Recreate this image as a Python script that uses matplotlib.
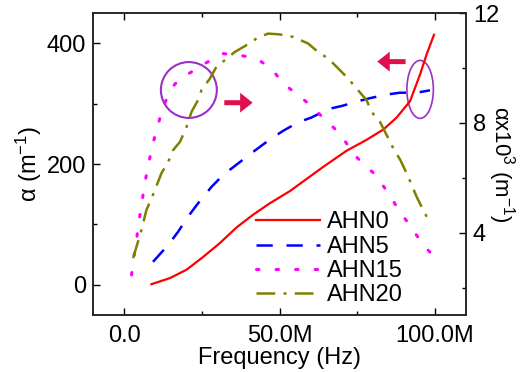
import matplotlib
matplotlib.use("Agg")
import matplotlib.pyplot as plt
from matplotlib.patches import Ellipse
from matplotlib.ticker import FixedLocator

plt.rcParams['font.family'] = ['Liberation Sans', 'DejaVu Sans']
plt.rcParams['mathtext.fontset'] = 'custom'
plt.rcParams['mathtext.rm'] = 'Liberation Sans'
plt.rcParams['mathtext.it'] = 'Liberation Sans'

# ---- data (frequency in MHz) ----
freq_ahn0 = [8.8, 14.7, 20.1, 25.4, 30.8, 36.2, 41.5, 46.9, 53.3, 64.0, 71.6, 78.0,
             83.4, 87.7, 92.0, 95.2, 97.3, 99.7]
alpha_ahn0 = [1, 11, 25, 46, 69, 95, 116, 135, 155, 195, 222, 240, 257, 277, 304,
              348, 381, 414]

freq_ahn5 = [9.3, 14.2, 17.4, 20.6, 23.8, 28.1, 31.9, 37.2, 41.5, 47.0, 51.2, 56.0,
             60.3, 65.7, 70.0, 75.3, 79.1, 84.5, 88.7, 94.1, 98.4]
alpha_ahn5 = [38, 66, 88, 113, 135, 162, 182, 203, 220, 241, 255, 269, 277, 291, 296,
              304, 309, 315, 318, 318, 322]

freq_ahn15 = [2.4, 3.1, 4.0, 4.7, 5.6, 6.4, 7.4, 8.6, 9.9, 11.5, 13.4, 16.3, 20.9, 26.3,
              31.9, 37.3, 42.6, 47.4, 51.2, 56.0, 60.6, 65.1, 69.7, 73.2, 76.9, 80.7,
              84.5, 88.2, 92.0, 95.9, 100.3]
alpha_ahn15 = [2.46, 3.07, 3.73, 4.36, 4.98, 5.61, 6.25, 6.89, 7.52, 8.16, 8.80, 9.41,
               9.80, 10.18, 10.52, 10.46, 10.34, 9.98, 9.43, 9.01, 8.58, 8.06, 7.59,
               6.95, 6.50, 6.13, 5.52, 4.86, 4.25, 3.61, 3.04]

freq_ahn20 = [2.9, 4.0, 5.3, 7.2, 9.0, 12.0, 14.2, 15.8, 18.0, 20.1, 21.7, 23.8, 24.9,
              27.6, 29.7, 32.4, 35.6, 38.8, 42.6, 46.3, 50.1, 54.4, 59.2, 62.4, 65.7,
              68.9, 72.1, 74.8, 78.0, 79.6, 82.3, 84.5, 86.6, 88.9, 91.4, 94.1, 96.2, 98.2]
alpha_ahn20 = [3.07, 3.49, 3.98, 4.83, 5.29, 6.16, 6.58, 7.01, 7.31, 7.85, 8.40, 8.83,
               9.19, 9.61, 10.04, 10.28, 10.58, 10.79, 11.07, 11.25, 11.22, 11.13, 10.89,
               10.58, 10.34, 9.98, 9.61, 9.25, 8.83, 8.40, 8.04, 7.55, 7.07, 6.64, 6.04,
               5.31, 4.83, 4.40]

labels = ["AHN0", "AHN5", "AHN15", "AHN20"]
xticks = [0, 50, 100]
xticklabels = ["0.0", "50.0M", "100.0M"]
left_ticks = [0, 200, 400]
right_ticks = [4, 8, 12]

FS = 17

fig = plt.figure(figsize=(5.22, 3.72), dpi=100)
ax = fig.add_axes([93/522, 1 - 315/372, 373/522, 302/372])
ax2 = ax.twinx()

l0, = ax.plot(freq_ahn0, alpha_ahn0, color='#ff0000', lw=1.6, label=labels[0])
l1, = ax.plot(freq_ahn5, alpha_ahn5, color='#0000ff', lw=1.8, label=labels[1],
              dashes=(6.5, 5.5))
l2, = ax2.plot(freq_ahn15, alpha_ahn15, color='#ff00ff', lw=2.2, label=labels[2],
               dashes=(0.8, 5.6), dash_capstyle='round')
l3, = ax2.plot(freq_ahn20, alpha_ahn20, color='#808000', lw=1.8, label=labels[3],
               dashes=(7.5, 3.3, 1.2, 3.3))

ax.set_xlim(-10, 110)
ax.set_ylim(-50, 450)
ax2.set_ylim(1, 12)

ax.xaxis.set_major_locator(FixedLocator(xticks))
ax.set_xticklabels(xticklabels)
ax.xaxis.set_minor_locator(FixedLocator([25, 75]))
ax.yaxis.set_major_locator(FixedLocator(left_ticks))
ax.yaxis.set_minor_locator(FixedLocator([100, 300]))
ax2.yaxis.set_major_locator(FixedLocator(right_ticks))
ax2.yaxis.set_minor_locator(FixedLocator([2, 6, 10]))

ax.tick_params(axis='x', which='both', direction='in', top=True, bottom=True,
               labelsize=FS, pad=7)
ax.tick_params(axis='y', which='both', direction='in', left=True, right=False,
               labelsize=FS, pad=5)
ax2.tick_params(axis='y', which='both', direction='in', right=True, labelsize=FS, pad=5)
for a in (ax, ax2):
    a.tick_params(which='major', length=5, width=1.0)
    a.tick_params(which='minor', length=3, width=1.0)
    for s in a.spines.values():
        s.set_linewidth(1.1)
        s.set_color('#222222')

ax.set_xlabel('Frequency (Hz)', fontsize=FS, labelpad=0)
ax.set_ylabel(r'$\alpha$ (m$^{-1}$)', fontsize=FS, labelpad=2)
ax2.set_ylabel(r'$\alpha$x10$^{3}$ (m$^{-1}$)', fontsize=16, rotation=270, labelpad=13)

# annotations: circles and arrows
ax.add_patch(Ellipse((0.257, 0.745), 0.150, 0.185, transform=ax.transAxes,
                     fill=False, edgecolor='#9b30c8', lw=1.5))
ax.add_patch(Ellipse((0.877, 0.747), 0.071, 0.192, transform=ax.transAxes,
                     fill=False, edgecolor='#9b30c8', lw=1.2))
arrow_style = 'simple,head_length=0.6,head_width=0.95,tail_width=0.24'
arrow_props = dict(arrowstyle=arrow_style, color='#e0104f', mutation_scale=15, lw=0,
                   shrinkA=0, shrinkB=0)
ax.annotate('', xy=(0.428, 0.703), xytext=(0.352, 0.703), xycoords='axes fraction',
            arrowprops=arrow_props)
ax.annotate('', xy=(0.762, 0.839), xytext=(0.838, 0.839), xycoords='axes fraction',
            arrowprops=arrow_props)

ax.legend(handles=[l0, l1, l2, l3], loc='upper left', bbox_to_anchor=(0.437, 0.343),
          frameon=False, fontsize=FS, handlelength=2.7, handletextpad=0.3,
          labelspacing=0.1, borderpad=0, borderaxespad=0)

fig.savefig('out.png', dpi=100)
